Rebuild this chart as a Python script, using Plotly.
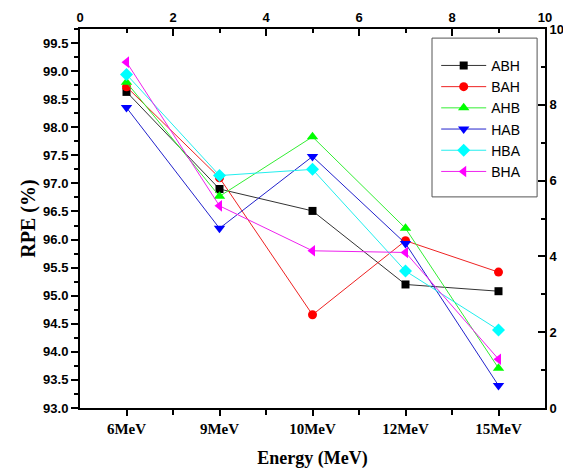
import plotly.graph_objects as go

categories = ["6MeV", "9MeV", "10MeV", "12MeV", "15MeV"]
series_names = ["ABH", "BAH", "AHB", "HAB", "HBA", "BHA"]
abh = [98.63, 96.90, 96.51, 95.20, 95.08]
bah = [98.72, 97.10, 94.66, 95.98, 95.42]
ahb = [98.80, 96.77, 97.83, 96.20, 93.71]
hab = [98.35, 96.20, 97.48, 95.93, 93.40]
hba = [98.94, 97.14, 97.25, 95.44, 94.39]
bha = [99.16, 96.60, 95.80, 95.77, 93.87]
values = [abh, bah, ahb, hab, hba, bha]

colors = ["#000000", "#ff0000", "#00ff00", "#0000ff", "#00ffff", "#ff00ff"]
line_colors = ["#333333", "#ee2222", "#33ee33", "#2222cc", "#22eeee", "#ee22ee"]
symbols = ["square", "circle", "triangle-up", "triangle-down", "diamond", "triangle-left"]
sizes = [8, 9, 10, 10, 10, 10]

fig = go.Figure()
for name, vals, c, lc, s, sz in zip(series_names, values, colors, line_colors, symbols, sizes):
    fig.add_trace(go.Scatter(
        x=categories, y=vals, name=name, mode="lines+markers",
        line=dict(color=lc, width=1),
        marker=dict(symbol=s, size=sz, color=c, line=dict(width=0)),
    ))

# empty traces so the secondary (top / right / minor-bottom) axes are drawn
fig.add_trace(go.Scatter(x=[], y=[], xaxis="x2", yaxis="y2", showlegend=False, hoverinfo="skip"))
fig.add_trace(go.Scatter(x=[], y=[], xaxis="x3", yaxis="y2", showlegend=False, hoverinfo="skip"))

sans_bold = dict(family="Liberation Sans, Arial", size=13, color="black", weight="bold")
serif_bold = dict(family="Liberation Serif, Times New Roman", size=15, color="black", weight="bold")

# legend frame (larger padding than plotly's own legend border)
fig.add_shape(
    type="rect", xref="paper", yref="paper",
    x0=0.757, x1=0.983, y0=0.557, y1=0.976,
    line=dict(color="#555555", width=1), fillcolor="white", layer="above",
)

# page body has an 8px margin, so the figure is 8px smaller than the window
fig.update_layout(
    width=563, height=463,
    margin=dict(l=72, r=26, t=21, b=63),
    plot_bgcolor="white", paper_bgcolor="white",
    showlegend=True,
    legend=dict(
        x=0.766, y=0.945, xanchor="left", yanchor="top",
        bgcolor="rgba(0,0,0,0)", borderwidth=0,
        font=dict(family="Liberation Sans, Arial", size=14, color="black"),
        itemwidth=45, tracegroupgap=0,
    ),
    xaxis=dict(
        type="category", categoryorder="array", categoryarray=categories,
        range=[-0.5, 4.5], showgrid=False, zeroline=False, automargin=False,
        showline=True, linecolor="black", linewidth=2,
        ticks="outside", ticklen=6, tickwidth=1.5, tickcolor="black",
        tickfont=serif_bold,
        title=dict(text="Energy (MeV)", font=dict(family="Liberation Serif, Times New Roman", size=18, color="black", weight="bold"), standoff=15),
    ),
    xaxis2=dict(
        overlaying="x", side="top", anchor="y2", range=[0, 10], automargin=False,
        showgrid=False, zeroline=False, showline=True, linecolor="black", linewidth=2,
        tick0=0, dtick=2, ticks="inside", ticklen=7, tickwidth=1.5, tickcolor="black",
        minor=dict(dtick=1, ticks="inside", ticklen=4, tickcolor="black", tickwidth=1.5, showgrid=False),
        tickfont=sans_bold,
    ),
    xaxis3=dict(
        overlaying="x", side="bottom", anchor="y2", range=[0, 10], automargin=False,
        showgrid=False, zeroline=False, showline=False,
        tickvals=[2, 4, 6, 8], ticks="outside", ticklen=6, tickwidth=1.5, tickcolor="black",
        showticklabels=False,
    ),
    yaxis=dict(
        range=[93, 99.75], showgrid=False, zeroline=False, automargin=False,
        showline=True, linecolor="black", linewidth=2,
        tick0=93, dtick=0.5, tickformat=".1f",
        ticks="outside", ticklen=7, tickwidth=1.5, tickcolor="black",
        minor=dict(dtick=0.25, ticks="outside", ticklen=4, tickcolor="black", tickwidth=1.5, showgrid=False),
        tickfont=sans_bold,
        title=dict(text="RPE (%)", font=dict(family="Liberation Serif, Times New Roman", size=20, color="black", weight="bold"), standoff=2),
    ),
    yaxis2=dict(
        overlaying="y", side="right", anchor="x2", range=[0, 10], automargin=False,
        showgrid=False, zeroline=False, showline=True, linecolor="black", linewidth=2,
        tick0=0, dtick=2, ticks="inside", ticklen=7, tickwidth=1.5, tickcolor="black",
        minor=dict(dtick=1, ticks="inside", ticklen=4, tickcolor="black", tickwidth=1.5, showgrid=False),
        tickfont=sans_bold,
    ),
)

fig.write_html("out.html")
